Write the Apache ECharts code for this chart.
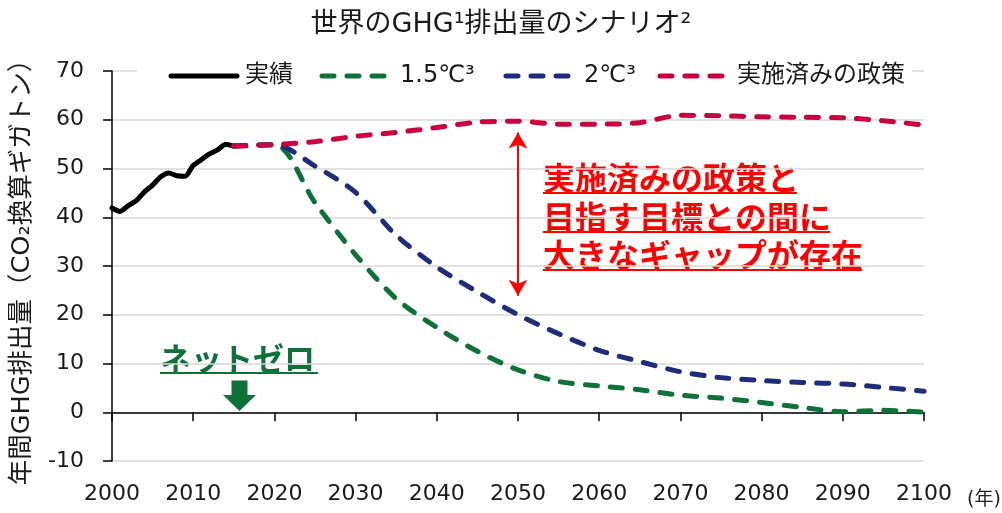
<!DOCTYPE html>
<html>
<head>
<meta charset="utf-8">
<script src="https://cdn.jsdelivr.net/npm/echarts@6/dist/echarts.min.js"></script>
<style>html,body{margin:0;padding:0;background:#fff;}#c{width:1002px;height:513px;}</style>
</head>
<body>
<div id="c"></div>
<script>
// ---- data ----
const histYears = [2000,2001,2002,2003,2004,2005,2006,2007,2008,2009,2010,2011,2012,2013,2014,2015];
const histValues = [41.9,41.2,42.4,43.4,45.2,46.6,48.3,49.1,48.5,48.4,50.6,51.8,53.0,53.8,55.0,54.6];
const scenYears = [2015,2020,2025,2030,2035,2040,2045,2050,2055,2060,2065,2070,2075,2080,2085,2090,2095,2100];
const values15C = [54.6,54.9,43.0,32.3,23.3,17.4,12.5,8.7,6.3,5.4,4.6,3.5,2.9,2.0,1.0,0.1,0.4,0.0];
const values2C = [54.6,54.9,50.5,45.1,36.3,29.8,24.7,20.0,16.1,12.7,10.4,8.3,7.1,6.5,6.1,5.8,5.1,4.3];
const valuesPolicy = [54.6,54.9,55.5,56.6,57.4,58.4,59.5,59.7,59.1,59.1,59.4,60.9,60.8,60.6,60.5,60.4,59.8,58.9];
const seriesNames = ['実績','1.5℃³','2℃³','実施済みの政策'];
const xTicks = {min:2000, max:2100, interval:10};
const yTicks = {min:-10, max:70, interval:10};
const titleText = '世界のGHG¹排出量のシナリオ²';
const yAxisName = '年間GHG排出量（CO₂換算ギガトン）';
const xUnit = '(年)';
const gapArrow = {year:2050, from:57.4, to:23.9};
const redNote = ['実施済みの政策と','目指す目標との間に','大きなギャップが存在'];
const greenNote = 'ネットゼロ';

// ---- style ----
const FF = "'DejaVu Sans','Noto Sans CJK JP',sans-serif";
const C_BLACK = '#000000', C_GREEN = '#0d7138', C_NAVY = '#1d2c7b', C_RED = '#c9003d';
const seriesColors = [C_BLACK, C_GREEN, C_NAVY, C_RED];
const DASH = [12,13];
const pair = (xs, ys) => xs.map((x,i)=>[x, ys[i]]);
const dashed = (color) => ({color, width:5, type:DASH, cap:'round', join:'round'});

const chart = echarts.init(document.getElementById('c'), null, {renderer:'canvas'});

const graphic = [];
// manual legend
graphic.push({type:'rect', shape:{x:137, y:63, width:775, height:26}, style:{fill:'#fff'}, z:50});
const legendLayout = [{x:171, tx:245},{x:322, tx:400},{x:506, tx:584},{x:660, tx:737}];
seriesNames.forEach((n,i)=>{
  const L = legendLayout[i];
  graphic.push({type:'line', z:51, shape:{x1:L.x, y1:76, x2:L.x+66, y2:76},
    style:{stroke:seriesColors[i], lineWidth:5, lineCap:'round', lineDash: i===0 ? null : DASH}});
  graphic.push({type:'text', z:51, x:L.tx, y:76, style:{text:n, fill:'#1a1a1a', fontSize:24, fontFamily:FF, verticalAlign:'middle', align:'left'}});
});
// red annotation
const redLines = [{y:178, x2:797},{y:217, x2:830},{y:255, x2:862}];
redNote.forEach((t,i)=>{
  graphic.push({type:'text', x:543, y:redLines[i].y, style:{text:t, fill:'#ff0000', fontSize:32, fontWeight:'bold', fontFamily:"'Noto Sans CJK JP',sans-serif", verticalAlign:'middle', align:'left'}});
  graphic.push({type:'line', shape:{x1:543, y1:redLines[i].y+15, x2:redLines[i].x2, y2:redLines[i].y+15}, style:{stroke:'#ff0000', lineWidth:2}});
});
// green annotation
graphic.push({type:'text', x:160, y:358, style:{text:greenNote, fill:C_GREEN, fontSize:31, fontWeight:'bold', fontFamily:"'Noto Sans CJK JP',sans-serif", verticalAlign:'middle', align:'left'}});
graphic.push({type:'line', shape:{x1:160, y1:373, x2:318, y2:373}, style:{stroke:C_GREEN, lineWidth:2}});
graphic.push({type:'polygon', shape:{points:[[231.5,380.5],[247.5,380.5],[247.5,395],[256,395],[239.5,411],[223,395],[231.5,395]]}, style:{fill:C_GREEN}});
// x unit
graphic.push({type:'text', x:967, y:500, style:{text:xUnit, fill:'#222', fontSize:19, fontFamily:FF, verticalAlign:'middle', align:'left'}});

chart.setOption({
  animation:false,
  backgroundColor:'#fff',
  title:{text:titleText, left:'center', top:6, textStyle:{fontSize:27, fontWeight:'normal', color:'#1a1a1a', fontFamily:FF}},
  grid:{left:112, right:78, top:71, bottom:52},
  xAxis:[
    {type:'value', min:xTicks.min, max:xTicks.max, interval:xTicks.interval, position:'bottom',
     axisLine:{show:false, onZero:false}, axisTick:{show:false}, splitLine:{show:false},
     axisLabel:{fontSize:22, color:'#1a1a1a', fontFamily:FF, margin:22, formatter:v=>String(v)}},
    {type:'value', min:xTicks.min, max:xTicks.max, interval:xTicks.interval, position:'bottom',
     axisLine:{show:true, onZero:true, lineStyle:{color:'#000', width:1.5}},
     axisTick:{show:true, length:9, lineStyle:{color:'#000', width:1.5}},
     axisLabel:{show:false}, splitLine:{show:false}}
  ],
  yAxis:{type:'value', min:yTicks.min, max:yTicks.max, interval:yTicks.interval,
    axisLine:{show:true, lineStyle:{color:'#000', width:1.5}},
    axisTick:{show:true, length:9, lineStyle:{color:'#000', width:1.5}},
    splitLine:{show:true, lineStyle:{color:'#d9d9d9', width:1.5}},
    axisLabel:{fontSize:22, color:'#1a1a1a', fontFamily:FF, margin:28},
    name:yAxisName, nameLocation:'middle', nameGap:77,
    nameTextStyle:{fontSize:25.5, color:'#1a1a1a', fontFamily:FF}
  },
  series:[
    {name:seriesNames[0], type:'line', data:pair(histYears, histValues), showSymbol:false, symbol:'none', smooth:0.25,
     lineStyle:{color:C_BLACK, width:5, cap:'round', join:'round'}, itemStyle:{color:C_BLACK}},
    {name:seriesNames[1], type:'line', data:pair(scenYears, values15C), showSymbol:false, symbol:'none', smooth:0.3,
     lineStyle:dashed(C_GREEN), itemStyle:{color:C_GREEN}},
    {name:seriesNames[2], type:'line', data:pair(scenYears, values2C), showSymbol:false, symbol:'none', smooth:0.3,
     lineStyle:dashed(C_NAVY), itemStyle:{color:C_NAVY}},
    {name:seriesNames[3], type:'line', data:pair(scenYears, valuesPolicy), showSymbol:false, symbol:'none', smooth:0.3,
     lineStyle:dashed(C_RED), itemStyle:{color:C_RED},
     markLine:{silent:true, symbol:['arrow','arrow'], symbolSize:[14,16], label:{show:false},
       lineStyle:{color:'#ff0000', width:2, type:'solid'},
       data:[[{coord:[gapArrow.year, gapArrow.from]},{coord:[gapArrow.year, gapArrow.to]}]]}}
  ],
  graphic:graphic
});
</script>
</body>
</html>
